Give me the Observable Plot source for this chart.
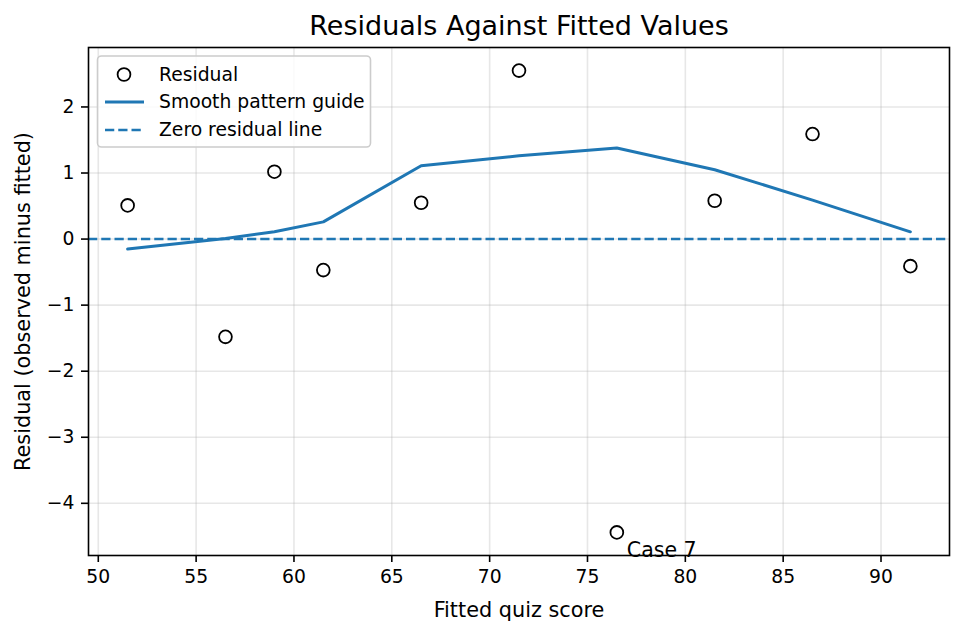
<!DOCTYPE html>
<html>
<head>
<meta charset="utf-8">
<script src="https://cdn.jsdelivr.net/npm/d3@7"></script>
<script src="https://cdn.jsdelivr.net/npm/@observablehq/plot@0.6"></script>
<style>
  html, body { margin: 0; padding: 0; background: #ffffff; }
  #chart { width: 963px; height: 633px; }
</style>
</head>
<body>
<div id="chart"></div>
<script>
// Fitted quiz scores and the residuals (observed minus fitted) for each case
const fittedScores = [51.5, 56.5, 59.0, 61.5, 66.5, 71.5, 76.5, 81.5, 86.5, 91.5];
const residuals    = [0.51, -1.48, 1.02, -0.47, 0.55, 2.55, -4.44, 0.58, 1.59, -0.41];
// Smoothed trend through the residuals, evaluated at the same fitted scores
const smoothValues = [-0.15, 0.01, 0.11, 0.26, 1.11, 1.26, 1.38, 1.05, 0.59, 0.11];
const caseIds      = [1, 2, 3, 4, 5, 6, 7, 8, 9, 10];
const highlightedCase = 7;

const xTicks = [50, 55, 60, 65, 70, 75, 80, 85, 90];
const yTicks = [-4, -3, -2, -1, 0, 1, 2];

const BLUE = "#1f77b4";
const FONT = "DejaVu Sans";

const points = fittedScores.map((f, i) => ({fitted: f, residual: residuals[i], id: caseIds[i]}));
const smooth = fittedScores.map((f, i) => ({fitted: f, value: smoothValues[i]}));
const flagged = points.filter(d => d.id === highlightedCase);

const fmt = d3.format("d");

const chart = Plot.plot({
  width: 963,
  height: 633,
  marginLeft: 88,
  marginRight: 14,
  marginTop: 47,
  marginBottom: 78,
  style: {fontFamily: FONT, background: "#ffffff", overflow: "visible", color: "black"},
  x: {domain: [49.5, 93.5]},
  y: {domain: [-4.79, 2.90]},
  marks: [
    Plot.gridX(xTicks, {stroke: "#b0b0b0", strokeOpacity: 0.3, strokeWidth: 1.6}),
    Plot.gridY(yTicks, {stroke: "#b0b0b0", strokeOpacity: 0.3, strokeWidth: 1.6}),
    Plot.ruleY([0], {stroke: BLUE, strokeWidth: 2.5, strokeDasharray: "9.25,4"}),
    Plot.line(smooth, {x: "fitted", y: "value", stroke: BLUE, strokeWidth: 3}),
    Plot.dot(points, {x: "fitted", y: "residual", r: 6.4, stroke: "black", fill: "none", strokeWidth: 1.8}),
    Plot.text(flagged, {x: "fitted", y: "residual", text: d => `Case ${d.id}`,
      dx: 10, dy: 24.5, textAnchor: "start", lineAnchor: "bottom", fontSize: 20.5, fill: "black"}),
    Plot.frame({stroke: "black", strokeWidth: 1.6}),
    Plot.axisX(xTicks, {tickSize: 7, tickPadding: 7, fontSize: 18.75, strokeWidth: 1.6,
      tickFormat: fmt, label: null, color: "black"}),
    Plot.axisY(yTicks, {tickSize: 7, tickPadding: 7, fontSize: 18.75, strokeWidth: 1.6,
      tickFormat: fmt, label: null, color: "black"}),
    // Title and axis titles
    Plot.text(["Residuals Against Fitted Values"], {frameAnchor: "top", dy: -12.5,
      textAnchor: "middle", lineAnchor: "bottom", fontSize: 27, fill: "black"}),
    Plot.text(["Fitted quiz score"], {frameAnchor: "bottom", dy: 61,
      textAnchor: "middle", lineAnchor: "bottom", fontSize: 20.8, fill: "black"}),
    Plot.text(["Residual (observed minus fitted)"], {frameAnchor: "left", dx: -58.5, rotate: -90,
      textAnchor: "middle", lineAnchor: "bottom", fontSize: 20.8, fill: "black"})
  ]
});

// Legend box in the upper-left corner of the plotting area
const svg = d3.select(chart);
const lg = svg.append("g").attr("font-family", FONT).attr("font-size", 18.75)
  .attr("text-anchor", "start");
lg.append("rect")
  .attr("x", 97.5).attr("y", 56).attr("width", 273).attr("height", 91)
  .attr("rx", 4).attr("fill", "#ffffff").attr("fill-opacity", 0.8)
  .attr("stroke", "#cccccc").attr("stroke-width", 1.6);
const rows = [
  {label: "Residual", kind: "dot", y: 74.5},
  {label: "Smooth pattern guide", kind: "line", y: 102},
  {label: "Zero residual line", kind: "dash", y: 130}
];
rows.forEach(r => {
  if (r.kind === "dot") {
    lg.append("circle").attr("cx", 124).attr("cy", r.y).attr("r", 6.4)
      .attr("fill", "none").attr("stroke", "black").attr("stroke-width", 1.8);
  } else {
    lg.append("line").attr("x1", 105).attr("x2", 144).attr("y1", r.y).attr("y2", r.y)
      .attr("stroke", BLUE).attr("stroke-width", r.kind === "line" ? 3 : 2.5)
      .attr("stroke-dasharray", r.kind === "dash" ? "9.25,4" : null);
  }
  lg.append("text").attr("x", 159).attr("y", r.y).attr("dy", "0.34em")
    .attr("text-anchor", "start").attr("fill", "black").text(r.label);
});

document.getElementById("chart").appendChild(chart);
</script>
</body>
</html>
